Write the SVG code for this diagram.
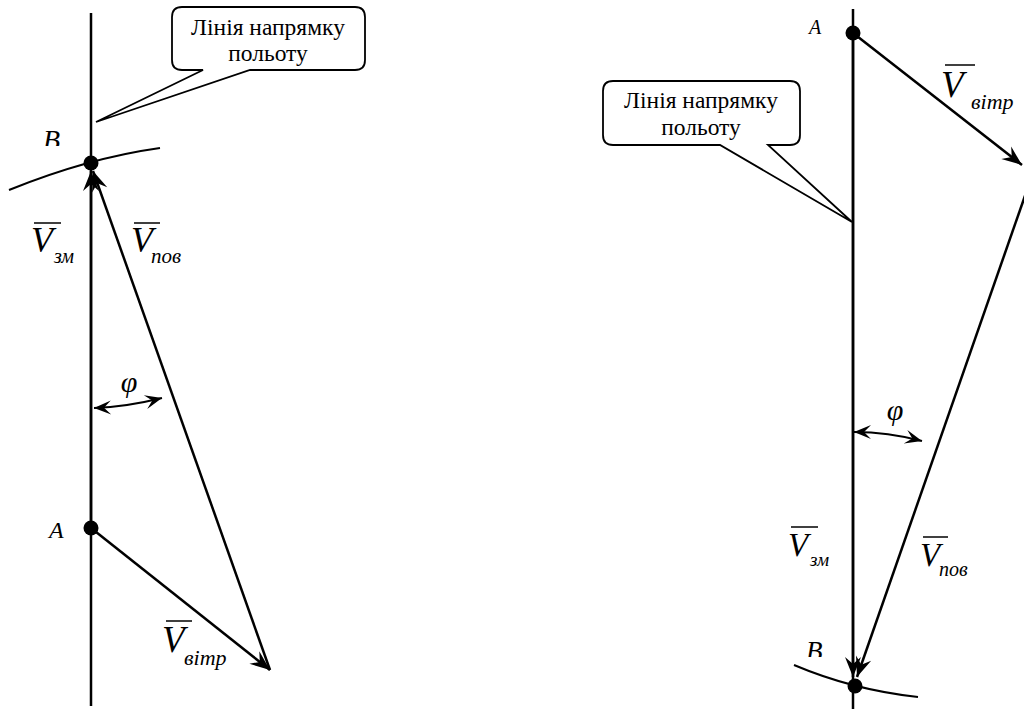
<svg xmlns="http://www.w3.org/2000/svg" width="1024" height="709" viewBox="0 0 1024 709">
<style>
.ln{stroke:#000;stroke-width:2.5;fill:none}
.arc{stroke:#000;stroke-width:2;fill:none}
.vec{stroke:#000;stroke-width:2.5;fill:none;marker-end:url(#ah)}
.phi{stroke:#000;stroke-width:2;fill:none;marker-start:url(#ahs);marker-end:url(#ahs)}
.call{fill:#fff;stroke:#000;stroke-width:1.8}
text{font-family:'Liberation Serif','Times New Roman',Times,serif;fill:#000}
.ct{font-size:23.5px;text-anchor:middle}
.it{font-style:italic}
.ov{stroke:#000;stroke-width:1.5}
</style>
<defs>
<marker id="ah" markerUnits="userSpaceOnUse" markerWidth="24" markerHeight="20" viewBox="-22 -10 24 20" refX="0" refY="0" orient="auto" overflow="visible">
<path d="M0,0 L-20,-8 L-13,0 L-20,8 Z" fill="#000"/>
</marker>
<marker id="ahs" markerUnits="userSpaceOnUse" markerWidth="24" markerHeight="20" viewBox="-20 -10 22 20" refX="0" refY="0" orient="auto-start-reverse" overflow="visible">
<path d="M0,0 L-17,-7 L-10,0 L-17,7 Z" fill="#000"/>
</marker>
<clipPath id="clipB1"><rect x="30" y="110" width="50" height="36"/></clipPath>
<clipPath id="clipB2"><rect x="795" y="625" width="45" height="32"/></clipPath>
</defs>

<g id="connectors">
<line class="ln" x1="91" y1="13" x2="91" y2="706"/>
<path class="arc" d="M9,190 Q88,158 160,148"/>
<line class="vec" x1="91" y1="528" x2="91" y2="171"/>
<line class="vec" x1="270" y1="670" x2="93" y2="171"/>
<line class="vec" x1="91" y1="528" x2="270" y2="670"/>
<path class="phi" d="M94,408 Q126,407 162,398"/>
<line class="ln" x1="853" y1="9" x2="853" y2="709"/>
<path class="arc" d="M794,665 Q853,690 918,697"/>
<line class="vec" x1="853" y1="33" x2="853" y2="677"/>
<line class="vec" x1="853" y1="33" x2="1022" y2="165"/>
<line class="vec" x1="1027" y1="190" x2="857" y2="677"/>
<path class="phi" d="M854,432 Q888,432 922,441"/>
</g>

<g id="callout-left">
<path class="call" d="M182,7 H355 Q365,7 365,17 V60 Q365,70 355,70 H250 L96,122 L203,70 H182 Q172,70 172,60 V17 Q172,7 182,7 Z"/>
<text class="ct" x="268" y="35">Лінія напрямку</text>
<text class="ct" x="268" y="61">польоту</text>
</g>

<g id="callout-right">
<path class="call" d="M613,81 H790 Q800,81 800,91 V135 Q800,145 790,145 H768 L852,222 L720,145 H613 Q603,145 603,135 V91 Q603,81 613,81 Z"/>
<text class="ct" x="701" y="108">Лінія напрямку</text>
<text class="ct" x="701" y="135">польоту</text>
</g>

<g id="point-B-left">
<circle cx="91" cy="163" r="7.5" fill="#000"/>
<text class="it" x="43" y="149" font-size="28" clip-path="url(#clipB1)">B</text>
</g>
<g id="point-A-left">
<circle cx="91" cy="528" r="7.5" fill="#000"/>
<text class="it" x="49" y="538" font-size="24">A</text>
</g>
<g id="label-Vzm-left">
<line class="ov" x1="34" y1="223" x2="61" y2="223"/>
<text class="it" x="31" y="252" font-size="36">V</text>
<text class="it" x="54" y="263" font-size="20">зм</text>
</g>
<g id="label-Vpov-left">
<line class="ov" x1="134" y1="223" x2="160" y2="223"/>
<text class="it" x="131" y="252" font-size="36">V</text>
<text class="it" x="151" y="263" font-size="21">пов</text>
</g>
<g id="label-Vvitr-left">
<line class="ov" x1="166" y1="621" x2="192" y2="621"/>
<text class="it" x="162" y="652" font-size="37">V</text>
<text class="it" x="184" y="665" font-size="22">вітр</text>
</g>
<g id="label-phi-left">
<text class="it" x="129" y="392" font-size="30" text-anchor="middle">φ</text>
</g>

<g id="point-A-right">
<circle cx="853" cy="33" r="7.5" fill="#000"/>
<text class="it" x="809" y="34" font-size="20">A</text>
</g>
<g id="point-B-right">
<circle cx="855" cy="686" r="7.5" fill="#000"/>
<text class="it" x="806" y="660" font-size="27" clip-path="url(#clipB2)">B</text>
</g>
<g id="label-Vvitr-right">
<line class="ov" x1="945" y1="65" x2="975" y2="65"/>
<text class="it" x="941" y="97" font-size="37">V</text>
<text class="it" x="971" y="109" font-size="22">вітр</text>
</g>
<g id="label-Vzm-right">
<line class="ov" x1="791" y1="527" x2="818" y2="527"/>
<text class="it" x="788" y="556" font-size="33">V</text>
<text class="it" x="810" y="566" font-size="19">зм</text>
</g>
<g id="label-Vpov-right">
<line class="ov" x1="923" y1="537" x2="948" y2="537"/>
<text class="it" x="920" y="566" font-size="33">V</text>
<text class="it" x="939" y="576" font-size="20">пов</text>
</g>
<g id="label-phi-right">
<text class="it" x="895" y="420" font-size="30" text-anchor="middle">φ</text>
</g>
</svg>
